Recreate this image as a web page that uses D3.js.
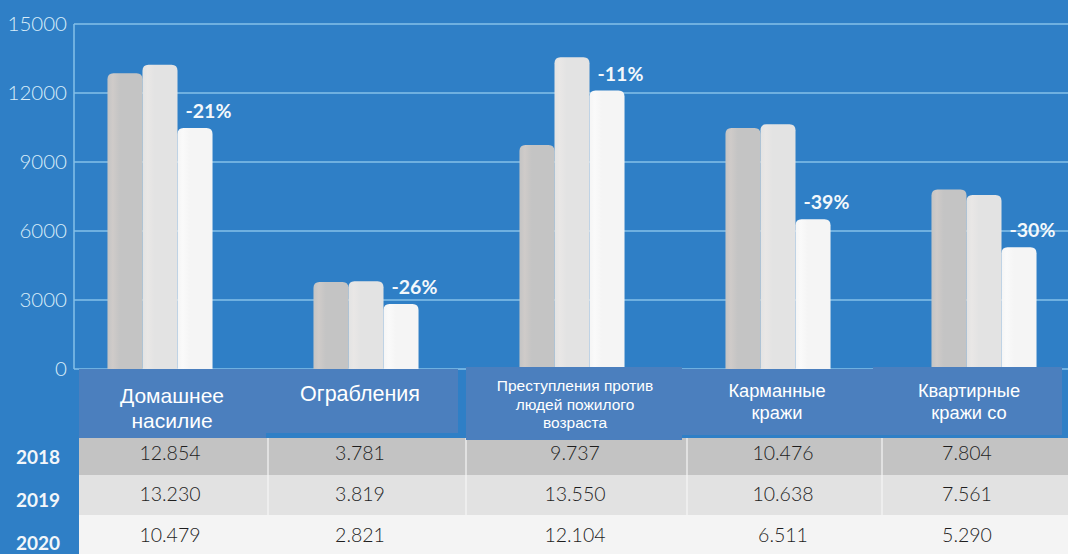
<!DOCTYPE html>
<html>
<head>
  <meta charset="utf-8">
  <title>Преступления 2018-2020</title>
  <script src="https://d3js.org/d3.v7.min.js"></script>
  <style>
    body, html {
      margin: 0;
      padding: 0;
      width: 100%;
      height: 100%;
      overflow: hidden;
      background: #2f7fc6;
    }
    svg { display: block; }
    .tick-label { font-family: Lato, sans-serif; font-weight: 300; font-size: 20.5px; fill: #d9edf9; }
    .pct { font-family: Lato, sans-serif; font-weight: 700; font-size: 19.5px; fill: #f4f8fb; }
    .year { font-family: Lato, sans-serif; font-weight: 700; font-size: 19px; fill: #f2f6fa; }
    .val { font-family: Lato, sans-serif; font-weight: 300; font-size: 19.5px; fill: #1e1e1e; }
    .head { font-family: "Liberation Sans", Arial, sans-serif; fill: #ffffff; }
  </style>
</head>
<body>
  <svg id="chart" width="1068" height="554"></svg>
  <script>
    // data
    var categories = ["Домашнее насилие", "Ограбления", "Преступления против людей пожилого возраста", "Карманные кражи", "Квартирные кражи со"];
    var headerLines = [
      ["Домашнее", "насилие"],
      ["Ограбления"],
      ["Преступления против", "людей пожилого", "возраста"],
      ["Карманные", "кражи"],
      ["Квартирные", "кражи со"]
    ];
    var years = ["2018", "2019", "2020"];
    var values2018 = [12854, 3781, 9737, 10476, 7804];
    var values2019 = [13230, 3819, 13550, 10638, 7561];
    var values2020 = [10479, 2821, 12104, 6511, 5290];
    var changeLabels = ["-21%", "-26%", "-11%", "-39%", "-30%"];
    var yTicks = [0, 3000, 6000, 9000, 12000, 15000];

    var series = [values2018, values2019, values2020];
    var barColors = ["#c4c4c4", "#e3e3e3", "#f5f5f5"];
    var barLight = ["#cfcbc9", "#e9e7e6", "#fafafa"];
    var rowColors = ["#c3c3c3", "#e2e2e2", "#f4f4f4"];

    var svg = d3.select("#chart");
    var W = 1068, H = 554;

    var y = d3.scaleLinear().domain([0, 15000]).range([369, 24]);
    var x0 = d3.scaleBand().domain(categories).range([57, 1087]).paddingInner(0.49).paddingOuter(0.245);
    var x1 = d3.scaleBand().domain(years).range([0, x0.bandwidth()]);

    // gradient per bar colour
    var defs = svg.append("defs");
    barColors.forEach(function(c, i) {
      var g = defs.append("linearGradient").attr("id", "g" + i).attr("x1", "0").attr("x2", "1");
      g.append("stop").attr("offset", "0").attr("stop-color", c);
      g.append("stop").attr("offset", "0.15").attr("stop-color", barLight[i]);
      g.append("stop").attr("offset", "0.35").attr("stop-color", c);
      g.append("stop").attr("offset", "1").attr("stop-color", c);
    });

    // gridlines
    svg.append("g")
      .selectAll("line")
      .data(yTicks)
      .join("line")
      .attr("x1", 74).attr("x2", W)
      .attr("y1", function(d) { return y(d); })
      .attr("y2", function(d) { return y(d); })
      .attr("stroke", "#86c0e8")
      .attr("stroke-width", 1.5);

    svg.append("line")
      .attr("x1", 74).attr("x2", 74)
      .attr("y1", y(15000)).attr("y2", y(0))
      .attr("stroke", "#86c0e8").attr("stroke-width", 1.5);

    svg.append("g")
      .selectAll("text")
      .data(yTicks)
      .join("text")
      .attr("class", "tick-label")
      .attr("x", 67)
      .attr("y", function(d) { return y(d); })
      .attr("dy", "0.36em")
      .attr("text-anchor", "end")
      .text(function(d) { return d; });

    // bars with rounded tops
    function barPath(x, top, w, bottom) {
      var r = Math.min(6, (bottom - top) / 2);
      return "M" + x + "," + bottom +
        "V" + (top + r) +
        "Q" + x + "," + top + " " + (x + r) + "," + top +
        "H" + (x + w - r) +
        "Q" + (x + w) + "," + top + " " + (x + w) + "," + (top + r) +
        "V" + bottom + "Z";
    }

    var groups = svg.append("g")
      .selectAll("g")
      .data(categories)
      .join("g")
      .attr("transform", function(d) { return "translate(" + x0(d) + ",0)"; });

    groups.selectAll("path")
      .data(function(d, i) { return series.map(function(s, k) { return { year: years[k], v: s[i], k: k }; }); })
      .join("path")
      .attr("d", function(d) { return barPath(x1(d.year), y(d.v), x1.bandwidth(), y(0)); })
      .attr("fill", function(d) { return "url(#g" + d.k + ")"; });

    groups.append("text")
      .attr("class", "pct")
      .attr("x", function(d) { return x1("2020") + 8; })
      .attr("y", function(d, i) { return y(values2020[i]) - 10; })
      .text(function(d, i) { return changeLabels[i]; });

    // table
    var colEdges = [79, 268, 466, 687, 882, 1068];
    var rowTops = [438, 475, 515, 554];
    var yearY = [457, 500, 543];
    var valY = [453, 494, 535];

    var table = svg.append("g");
    years.forEach(function(yr, r) {
      table.append("rect")
        .attr("x", colEdges[0]).attr("y", rowTops[r])
        .attr("width", W - colEdges[0]).attr("height", rowTops[r + 1] - rowTops[r])
        .attr("fill", rowColors[r]);
      table.append("text")
        .attr("class", "year")
        .attr("x", 38).attr("y", yearY[r])
        .attr("dy", "0.35em")
        .attr("text-anchor", "middle")
        .text(yr);
      series[r].forEach(function(v, c) {
        table.append("text")
          .attr("class", "val")
          .attr("x", x0(categories[c]) + x0.bandwidth() / 2 + [10, -6, 3, 5, -17][c])
          .attr("y", valY[r])
          .attr("dy", "0.35em")
          .attr("text-anchor", "middle")
          .text(d3.format(",")(v).replace(",", "."));
      });
    });
    colEdges.slice(1, 5).forEach(function(e) {
      table.append("line")
        .attr("x1", e).attr("x2", e).attr("y1", rowTops[0]).attr("y2", H)
        .attr("stroke", "#f6f6f6").attr("stroke-width", 1.5).attr("opacity", 0.8);
    });

    // header cells
    var heads = [
      { x0: 79, x1: 266, y0: 369, y1: 438, fs: 21, lh: 25, cx: 172, ty: 396 },
      { x0: 266, x1: 458, y0: 369, y1: 433, fs: 21.5, lh: 25, cx: 360, ty: 393 },
      { x0: 466, x1: 682, y0: 367, y1: 440, fs: 15.5, lh: 18.5, cx: 575, ty: 386 },
      { x0: 682, x1: 873, y0: 369, y1: 435, fs: 18.3, lh: 22, cx: 777, ty: 391 },
      { x0: 873, x1: 1062, y0: 367, y1: 435, fs: 18.3, lh: 22, cx: 969, ty: 391 }
    ];
    heads.forEach(function(h, i) {
      table.append("rect")
        .attr("x", h.x0).attr("y", h.y0)
        .attr("width", h.x1 - h.x0).attr("height", h.y1 - h.y0)
        .attr("fill", "#4b7fbe");
      var t = table.append("text")
        .attr("class", "head")
        .attr("text-anchor", "middle")
        .style("font-size", h.fs + "px");
      headerLines[i].forEach(function(line, j) {
        t.append("tspan")
          .attr("x", h.cx)
          .attr("y", h.ty + j * h.lh)
          .attr("dy", "0.35em")
          .text(line);
      });
    });
  </script>
</body>
</html>
